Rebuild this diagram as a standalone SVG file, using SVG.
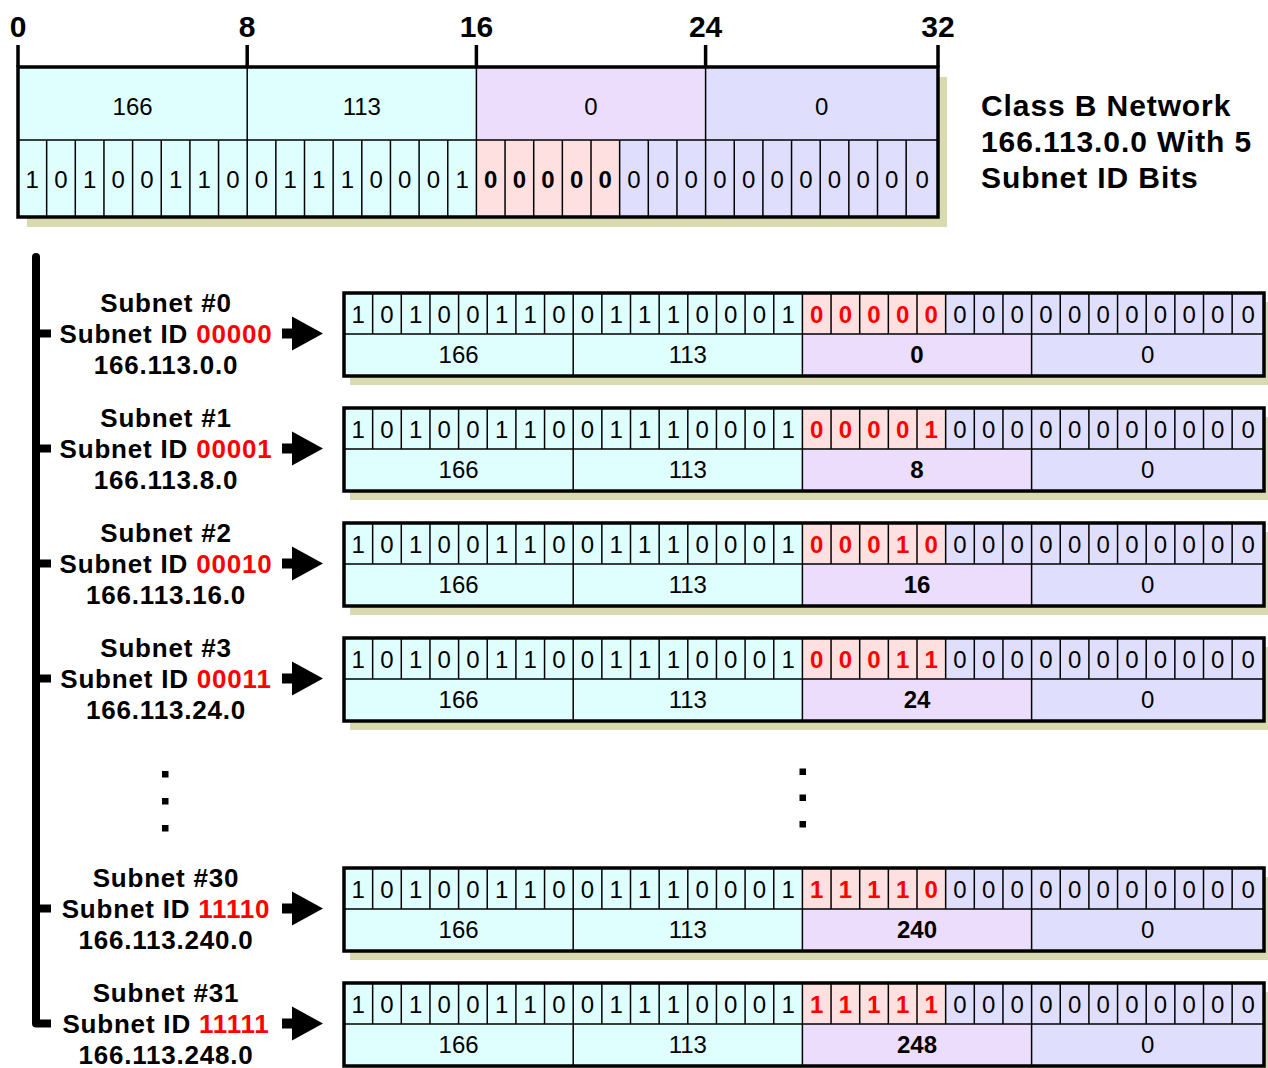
<svg xmlns="http://www.w3.org/2000/svg" width="1268" height="1068" viewBox="0 0 1268 1068">
<style>
text{font-family:"Liberation Sans",Arial,sans-serif;fill:#000}
.bit{font-size:24px;text-anchor:middle}
.num{font-size:24px;text-anchor:middle}
.b{font-weight:bold}
.red{fill:#FF0000}
.lbl{font-size:26px;font-weight:bold;text-anchor:middle;letter-spacing:0.8px}
.tick{font-size:30px;font-weight:bold;text-anchor:middle}
.title{font-size:30px;font-weight:bold;letter-spacing:0.9px}
.cy{fill:#DFFFFF}
.pk{fill:#FFE0E0}
.pu{fill:#EDDDFC}
.lv{fill:#DFDFFD}
.sh{fill:#DADAB0}
.grid{fill:none;stroke:#000;stroke-width:1.5}
.border{fill:none;stroke:#000;stroke-width:3.5}
.conn{fill:none;stroke:#000;stroke-width:8}
.arrow{fill:#000}
</style>
<defs>
<g id="rowframe">
<rect class="sh" x="6" y="9" width="918" height="83"/>
<rect class="cy" x="0" y="0" width="458.4" height="41"/>
<rect class="pk" x="458.4" y="0" width="143.25" height="41"/>
<rect class="lv" x="601.65" y="0" width="318.35" height="41"/>
<rect class="cy" x="0" y="41" width="458.4" height="42"/>
<rect class="pu" x="458.4" y="41" width="229.2" height="42"/>
<rect class="lv" x="687.6" y="41" width="232.4" height="42"/>
<path class="grid" d="M28.65,0V41M57.3,0V41M85.95,0V41M114.6,0V41M143.25,0V41M171.9,0V41M200.55,0V41M229.2,0V41M257.85,0V41M286.5,0V41M315.15,0V41M343.8,0V41M372.45,0V41M401.1,0V41M429.75,0V41M458.4,0V41M487.05,0V41M515.7,0V41M544.35,0V41M573,0V41M601.65,0V41M630.3,0V41M658.95,0V41M687.6,0V41M716.25,0V41M744.9,0V41M773.55,0V41M802.2,0V41M830.85,0V41M859.5,0V41M888.15,0V41M0,41H920M229.2,41V83M458.4,41V83M687.6,41V83"/>
<rect class="border" x="0" y="0" width="920" height="83"/>
</g>
</defs>

<g id="ruler">
<path class="conn" style="stroke-width:3.5" d="M18,45V67M247.2,45V67M476.4,45V67M705.6,45V67M938,45V67"/>
<text class="tick" x="18" y="37">0</text>
<text class="tick" x="247.2" y="37">8</text>
<text class="tick" x="476.4" y="37">16</text>
<text class="tick" x="705.6" y="37">24</text>
<text class="tick" x="938" y="37">32</text>
</g>

<g id="class-b-network" transform="translate(18,67)">
<rect class="sh" x="9" y="10" width="920" height="150"/>
<rect class="cy" x="0" y="0" width="458.4" height="73"/>
<rect class="pu" x="458.4" y="0" width="229.2" height="73"/>
<rect class="lv" x="687.6" y="0" width="232.4" height="73"/>
<rect class="cy" x="0" y="73" width="458.4" height="77"/>
<rect class="pk" x="458.4" y="73" width="143.25" height="77"/>
<rect class="lv" x="601.65" y="73" width="318.35" height="77"/>
<path class="grid" d="M28.65,73V150M57.3,73V150M85.95,73V150M114.6,73V150M143.25,73V150M171.9,73V150M200.55,73V150M229.2,0V150M257.85,73V150M286.5,73V150M315.15,73V150M343.8,73V150M372.45,73V150M401.1,73V150M429.75,73V150M458.4,0V150M487.05,73V150M515.7,73V150M544.35,73V150M573,73V150M601.65,73V150M630.3,73V150M658.95,73V150M687.6,0V150M716.25,73V150M744.9,73V150M773.55,73V150M802.2,73V150M830.85,73V150M859.5,73V150M888.15,73V150M0,73H920"/>
<rect class="border" x="0" y="0" width="920" height="150"/>
<text class="num" x="114.6" y="48">166</text>
<text class="num" x="343.8" y="48">113</text>
<text class="num" x="573" y="48">0</text>
<text class="num" x="803.8" y="48">0</text>
<text class="bit" x="14.3 43 71.6 100.3 128.9 157.6 186.2 214.9 243.5 272.2 300.8 329.5 358.1 386.8 415.4 444.1" y="121">1010011001110001</text>
<text class="bit b" x="472.7 501.4 530 558.7 587.3" y="121">00000</text>
<text class="bit" x="616 644.6 673.3 701.9 730.6 759.2 787.9 816.5 845.2 873.8 904.1" y="121">00000000000</text>
</g>

<g id="title">
<text class="title" x="981" y="116">Class B Network</text>
<text class="title" x="981" y="152">166.113.0.0 With 5</text>
<text class="title" x="981" y="188">Subnet ID Bits</text>
</g>

<g id="subnet-0">
<text class="lbl" x="166" y="312">Subnet #0</text>
<text class="lbl" x="166" y="343">Subnet ID <tspan class="red">00000</tspan></text>
<text class="lbl" x="166" y="374">166.113.0.0</text>
<g transform="translate(344,293)">
<use href="#rowframe"/>
<text class="bit" x="14.3 43 71.6 100.3 128.9 157.6 186.2 214.9 243.5 272.2 300.8 329.5 358.1 386.8 415.4 444.1" y="30">1010011001110001</text>
<text class="bit b red" x="472.7 501.4 530 558.7 587.3" y="30">00000</text>
<text class="bit" x="616 644.6 673.3 701.9 730.6 759.2 787.9 816.5 845.2 873.8 904.1" y="30">00000000000</text>
<text class="num" x="114.6" y="70">166</text>
<text class="num" x="343.8" y="70">113</text>
<text class="num b" x="573" y="70">0</text>
<text class="num" x="803.8" y="70">0</text>
</g>
</g>

<g id="subnet-1">
<text class="lbl" x="166" y="427">Subnet #1</text>
<text class="lbl" x="166" y="458">Subnet ID <tspan class="red">00001</tspan></text>
<text class="lbl" x="166" y="489">166.113.8.0</text>
<g transform="translate(344,408)">
<use href="#rowframe"/>
<text class="bit" x="14.3 43 71.6 100.3 128.9 157.6 186.2 214.9 243.5 272.2 300.8 329.5 358.1 386.8 415.4 444.1" y="30">1010011001110001</text>
<text class="bit b red" x="472.7 501.4 530 558.7 587.3" y="30">00001</text>
<text class="bit" x="616 644.6 673.3 701.9 730.6 759.2 787.9 816.5 845.2 873.8 904.1" y="30">00000000000</text>
<text class="num" x="114.6" y="70">166</text>
<text class="num" x="343.8" y="70">113</text>
<text class="num b" x="573" y="70">8</text>
<text class="num" x="803.8" y="70">0</text>
</g>
</g>

<g id="subnet-2">
<text class="lbl" x="166" y="542">Subnet #2</text>
<text class="lbl" x="166" y="573">Subnet ID <tspan class="red">00010</tspan></text>
<text class="lbl" x="166" y="604">166.113.16.0</text>
<g transform="translate(344,523)">
<use href="#rowframe"/>
<text class="bit" x="14.3 43 71.6 100.3 128.9 157.6 186.2 214.9 243.5 272.2 300.8 329.5 358.1 386.8 415.4 444.1" y="30">1010011001110001</text>
<text class="bit b red" x="472.7 501.4 530 558.7 587.3" y="30">00010</text>
<text class="bit" x="616 644.6 673.3 701.9 730.6 759.2 787.9 816.5 845.2 873.8 904.1" y="30">00000000000</text>
<text class="num" x="114.6" y="70">166</text>
<text class="num" x="343.8" y="70">113</text>
<text class="num b" x="573" y="70">16</text>
<text class="num" x="803.8" y="70">0</text>
</g>
</g>

<g id="subnet-3">
<text class="lbl" x="166" y="657">Subnet #3</text>
<text class="lbl" x="166" y="688">Subnet ID <tspan class="red">00011</tspan></text>
<text class="lbl" x="166" y="719">166.113.24.0</text>
<g transform="translate(344,638)">
<use href="#rowframe"/>
<text class="bit" x="14.3 43 71.6 100.3 128.9 157.6 186.2 214.9 243.5 272.2 300.8 329.5 358.1 386.8 415.4 444.1" y="30">1010011001110001</text>
<text class="bit b red" x="472.7 501.4 530 558.7 587.3" y="30">00011</text>
<text class="bit" x="616 644.6 673.3 701.9 730.6 759.2 787.9 816.5 845.2 873.8 904.1" y="30">00000000000</text>
<text class="num" x="114.6" y="70">166</text>
<text class="num" x="343.8" y="70">113</text>
<text class="num b" x="573" y="70">24</text>
<text class="num" x="803.8" y="70">0</text>
</g>
</g>

<g id="ellipsis">
<rect x="162" y="771" width="6.5" height="6.5"/>
<rect x="162" y="798" width="6.5" height="6.5"/>
<rect x="162" y="825" width="6.5" height="6.5"/>
<rect x="799.5" y="768.5" width="6.5" height="6.5"/>
<rect x="799.5" y="794.5" width="6.5" height="6.5"/>
<rect x="799.5" y="821" width="6.5" height="6.5"/>
</g>

<g id="subnet-30">
<text class="lbl" x="166" y="887">Subnet #30</text>
<text class="lbl" x="166" y="918">Subnet ID <tspan class="red">11110</tspan></text>
<text class="lbl" x="166" y="949">166.113.240.0</text>
<g transform="translate(344,868)">
<use href="#rowframe"/>
<text class="bit" x="14.3 43 71.6 100.3 128.9 157.6 186.2 214.9 243.5 272.2 300.8 329.5 358.1 386.8 415.4 444.1" y="30">1010011001110001</text>
<text class="bit b red" x="472.7 501.4 530 558.7 587.3" y="30">11110</text>
<text class="bit" x="616 644.6 673.3 701.9 730.6 759.2 787.9 816.5 845.2 873.8 904.1" y="30">00000000000</text>
<text class="num" x="114.6" y="70">166</text>
<text class="num" x="343.8" y="70">113</text>
<text class="num b" x="573" y="70">240</text>
<text class="num" x="803.8" y="70">0</text>
</g>
</g>

<g id="subnet-31">
<text class="lbl" x="166" y="1002">Subnet #31</text>
<text class="lbl" x="166" y="1033">Subnet ID <tspan class="red">11111</tspan></text>
<text class="lbl" x="166" y="1064">166.113.248.0</text>
<g transform="translate(344,983)">
<use href="#rowframe"/>
<text class="bit" x="14.3 43 71.6 100.3 128.9 157.6 186.2 214.9 243.5 272.2 300.8 329.5 358.1 386.8 415.4 444.1" y="30">1010011001110001</text>
<text class="bit b red" x="472.7 501.4 530 558.7 587.3" y="30">11111</text>
<text class="bit" x="616 644.6 673.3 701.9 730.6 759.2 787.9 816.5 845.2 873.8 904.1" y="30">00000000000</text>
<text class="num" x="114.6" y="70">166</text>
<text class="num" x="343.8" y="70">113</text>
<text class="num b" x="573" y="70">248</text>
<text class="num" x="803.8" y="70">0</text>
</g>
</g>

<g id="connectors">
<circle cx="36" cy="257" r="4" fill="#000"/>
<path class="conn" stroke-linejoin="round" d="M36,257V1023.5H51"/>
<path class="conn" d="M36,333.5H51M36,448.5H51M36,563.5H51M36,678.5H51M36,908.5H51"/>
<path class="arrow" d="M282,328.5H292V316.5L323,333.5L292,350.5V338.5H282Z"/>
<path class="arrow" d="M282,443.5H292V431.5L323,448.5L292,465.5V453.5H282Z"/>
<path class="arrow" d="M282,558.5H292V546.5L323,563.5L292,580.5V568.5H282Z"/>
<path class="arrow" d="M282,673.5H292V661.5L323,678.5L292,695.5V683.5H282Z"/>
<path class="arrow" d="M282,903.5H292V891.5L323,908.5L292,925.5V913.5H282Z"/>
<path class="arrow" d="M282,1018.5H292V1006.5L323,1023.5L292,1040.5V1028.5H282Z"/>
</g>
</svg>
